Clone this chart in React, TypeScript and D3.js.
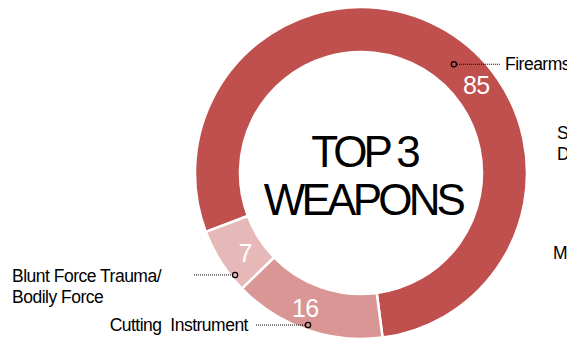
import React from "react";
import * as d3 from "d3";

const categories = ["Firearms", "Cutting  Instrument", "Blunt Force Trauma/\nBodily Force"];
const values = [85, 16, 7];
const colors = ["#C0504D", "#D99694", "#E6B9B8"];
// label layout (fraction along slice, radius)
const valueLabelFrac = [0.577, 0.56, 0.4];
const valueLabelR = [145, 146, 141];
const markerFrac = [0.534, 0.5, 0.22];
const markerR = [143, 161, 162];
const hiddenLabels = [["S", "D"], ["M"]];

const W = 567, H = 343;
const cx = 361, cy = 173;
const outerR = 166, innerR = 121;
const startDeg = -110.8;

export default function App() {
  const start = (startDeg * Math.PI) / 180;
  const pie = d3.pie<number>().sort(null).value((d) => d).startAngle(start).endAngle(start + 2 * Math.PI);
  const arcs = pie(values);
  const arc = d3.arc<d3.PieArcDatum<number>>().innerRadius(innerR).outerRadius(outerR);
  const polar = (a: number, r: number) => [Math.sin(a) * r, -Math.cos(a) * r];
  const font = "'Liberation Sans', Arial, sans-serif";

  return (
    <svg width={W} height={H} style={{ position: "absolute", left: 0, top: 0, fontFamily: font }}>
      <rect width={W} height={H} fill="#fff" />
      <g transform={`translate(${cx},${cy})`}>
        {arcs.map((a, i) => (
          <path key={i} d={arc(a) || ""} fill={colors[i]} stroke="#fff" strokeWidth={2.5} />
        ))}
        {arcs.map((a, i) => {
          const ang = a.startAngle + valueLabelFrac[i] * (a.endAngle - a.startAngle);
          const [x, y] = polar(ang, valueLabelR[i]);
          return (
            <text key={"v" + i} x={x} y={y} fill="#fff" fontSize={25} textAnchor="middle" dominantBaseline="central" letterSpacing={-0.5}>
              {values[i]}
            </text>
          );
        })}
      </g>
      {arcs.map((a, i) => {
        const ang = a.startAngle + markerFrac[i] * (a.endAngle - a.startAngle);
        const [px, py] = polar(ang, markerR[i]);
        const mx = cx + px, my = cy + py;
        const right = i === 0;
        const lineEnd = i === 0 ? 500 : i === 1 ? 256 : 194;
        const lines = categories[i].split("\n");
        return (
          <g key={"m" + i}>
            <line x1={right ? mx + 3 : lineEnd} x2={right ? lineEnd : mx - 3} y1={my} y2={my} stroke="#000" strokeWidth={1} strokeDasharray="1,1" />
            <circle cx={mx} cy={my} r={2.6} fill="none" stroke="#000" strokeWidth={1.2} />
            {right ? (
              <text x={505} y={my + 6} fontSize={17.5} letterSpacing={-0.5} fill="#000">{lines[0]}</text>
            ) : i === 1 ? (
              <text x={248} y={my + 6} fontSize={17.5} letterSpacing={-0.5} fill="#000" textAnchor="end" style={{ whiteSpace: "pre" }}>{lines[0]}</text>
            ) : (
              <text x={12} y={my + 7} fontSize={17.5} letterSpacing={-0.5} fill="#000">
                {lines.map((l, j) => (
                  <tspan key={j} x={12} dy={j === 0 ? 0 : 21}>{l}</tspan>
                ))}
              </text>
            )}
          </g>
        );
      })}
      <text x={557} y={139} fontSize={17.5} fill="#000">
        <tspan x={557}>{hiddenLabels[0][0]}</tspan>
        <tspan x={557} dy={21}>{hiddenLabels[0][1]}</tspan>
      </text>
      <text x={553} y={259} fontSize={17.5} fill="#000">{hiddenLabels[1][0]}</text>
      <text x={cx + 3} y={167} fontSize={44} textAnchor="middle" letterSpacing={-4} fill="#000">TOP 3</text>
      <text x={cx + 2} y={215} fontSize={44} textAnchor="middle" letterSpacing={-3.8} fill="#000">WEAPONS</text>
    </svg>
  );
}
